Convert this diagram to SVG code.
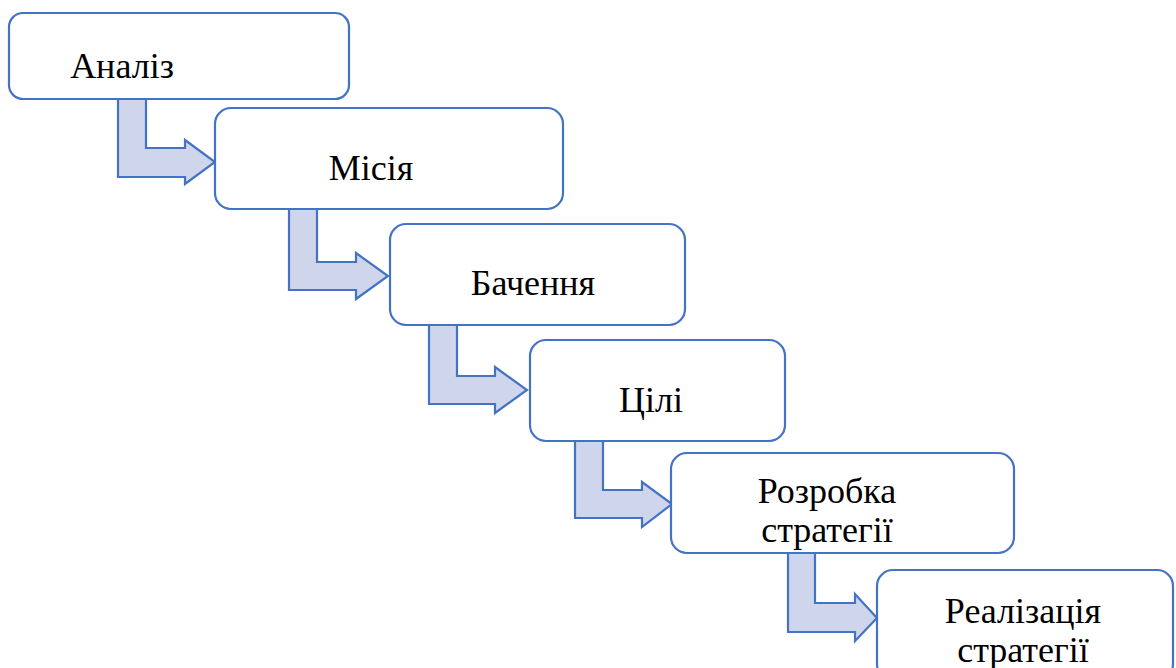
<svg xmlns="http://www.w3.org/2000/svg" width="1176" height="668" viewBox="0 0 1176 668">
<style>
.box{fill:#fff;stroke:#4472C4;stroke-width:2.2}
.arr{fill:#CFD5EA;stroke:#4472C4;stroke-width:2.2;stroke-linejoin:miter}
</style>
<rect width="1176" height="668" fill="#fff"/>
<g id="connectors">
<path class="arr" d="M118,99 H146 V148 H185 V140 L215,162 L185,184 V177 H118 Z"/>
<path class="arr" d="M289,209 H317 V262 H356 V253 L388,276 L356,299 V290 H289 Z"/>
<path class="arr" d="M429,325 H457 V376 H495 V367 L527,390 L495,413 V404 H429 Z"/>
<path class="arr" d="M575,441 H603 V490 H642 V482 L672,504 L642,527 V518 H575 Z"/>
<path class="arr" d="M788,553 H815 V603 H855 V594 L877,618 L855,641 V632 H788 Z"/>
</g>
<g font-family="Liberation Serif, DejaVu Serif, serif" font-size="36" fill="#000" text-anchor="middle">
<g id="n1"><rect class="box" x="9" y="13" width="340" height="86" rx="14"/><text x="122" y="78">Аналіз</text></g>
<g id="n2"><rect class="box" x="215" y="108" width="348" height="101" rx="16"/><text x="371" y="180">Місія</text></g>
<g id="n3"><rect class="box" x="390" y="224" width="295" height="101" rx="16"/><text x="533" y="295">Бачення</text></g>
<g id="n4"><rect class="box" x="530" y="340" width="255" height="101" rx="16"/><text x="651" y="412">Цілі</text></g>
<g id="n5"><rect class="box" x="671" y="453" width="343" height="100" rx="16"/><text x="827" y="503">Розробка</text><text x="827" y="542">стратегії</text></g>
<g id="n6"><rect class="box" x="877" y="570" width="296" height="110" rx="16"/><text x="1023" y="623">Реалізація</text><text x="1023" y="662">стратегії</text></g>
</g>
</svg>
